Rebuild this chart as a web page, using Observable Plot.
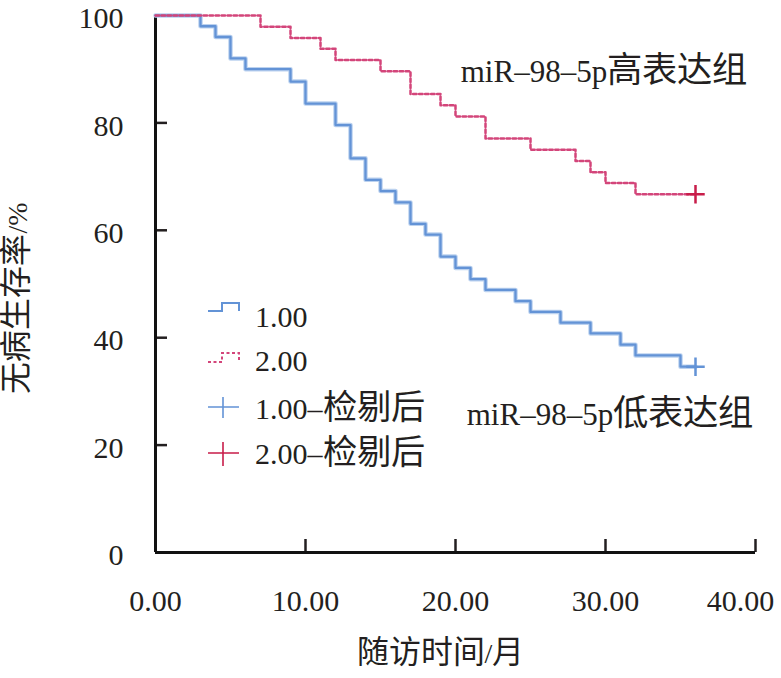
<!DOCTYPE html>
<html>
<head>
<meta charset="utf-8">
<script src="https://cdn.jsdelivr.net/npm/d3@7"></script>
<script src="https://cdn.jsdelivr.net/npm/@observablehq/plot@0.6"></script>
<style>
  @font-face {
    font-family: "CJKBig";
    src: local("Noto Sans CJK SC"), local("Noto Sans CJK SC Regular"), local("NotoSansCJKsc-Regular");
    size-adjust: 114%;
    unicode-range: U+2E80-9FFF, U+F900-FAFF, U+FF00-FFEF;
  }
  html, body { margin: 0; padding: 0; background: #fff; }
  #wrap { position: relative; width: 781px; height: 678px; }
  #legend { position: absolute; left: 0; top: 0; pointer-events: none; }
</style>
</head>
<body>
<div id="wrap"></div>
<script>
// ---- data ----
const lowTimes = [0, 3, 4, 5, 6, 9, 10, 12, 13, 14, 15, 16, 17, 18, 19, 20, 21, 22, 24, 25, 27, 29, 31, 32, 35, 36];
const lowSurv  = [100, 98, 96, 92, 90, 87.7, 83.6, 79.6, 73.4, 69.4, 67.3, 65.2, 61.2, 59.2, 55.1, 53.0, 50.9, 48.9, 46.8, 44.8, 42.8, 40.8, 38.7, 36.7, 34.6, 34.6];
const highTimes = [0, 7, 9, 11, 12, 15, 17, 19, 20, 22, 25, 28, 29, 30, 32, 36];
const highSurv  = [100, 97.9, 95.8, 93.8, 91.7, 89.6, 85.4, 83.3, 81.2, 77.1, 75.0, 72.9, 70.8, 68.8, 66.7, 66.7];
const censorTimes = [36, 36];
const censorSurv = [34.6, 66.7];
const censorGroups = ["1.00", "2.00"];
const xTicks = [0, 10, 20, 30, 40];
const yTicks = [0, 20, 40, 60, 80, 100];
const annotations = ["miR–98–5p高表达组", "miR–98–5p低表达组"];
const annotX = [20.35, 20.75];
const annotY = [89.4, 25.5];
const legendLabels = ["1.00", "2.00", "1.00–检剔后", "2.00–检剔后"];
const xLabel = "随访时间/月";
const yLabel = "无病生存率/%";

const BLUE = "#6393d6", BLUE_GLOW = "#bcd2ef", RED = "#d3457a", RED_PLUS = "#c81d4a";
const FONT = '"Liberation Serif", "CJKBig", "Noto Sans CJK SC", serif';

const low = lowTimes.map((t, i) => ({t, s: lowSurv[i]}));
const high = highTimes.map((t, i) => ({t, s: highSurv[i]}));
const censor = censorTimes.map((t, i) => ({t, s: censorSurv[i], g: censorGroups[i]}));
const annot = annotations.map((text, i) => ({text, x: annotX[i], y: annotY[i]}));
const lastX = xTicks[xTicks.length - 1];

const chart = Plot.plot({
  width: 781, height: 678,
  marginLeft: 155, marginRight: 26, marginTop: 15, marginBottom: 126,
  style: {fontFamily: FONT, fontSize: "30px", color: "#231f20", background: "#fff", overflow: "visible"},
  x: {domain: [0, 40]},
  y: {domain: [0, 100]},
  marks: [
    Plot.axisX({ticks: xTicks, tickFormat: d => d === lastX ? "" : d.toFixed(2), tickSize: -13, tickPadding: 50, strokeWidth: 2.5, label: null, fontSize: 30}),
    Plot.axisX({ticks: [lastX], tickFormat: d => d.toFixed(2), tickSize: 0, tickPadding: 37, dx: -15, label: null, fontSize: 30}),
    Plot.axisY({ticks: yTicks, tickFormat: () => "", tickSize: -12, strokeWidth: 2.5, label: null}),
    Plot.axisY({ticks: yTicks, tickFormat: d => String(d), tickSize: 0, tickPadding: 32, dy: 3, label: null, fontSize: 30}),
    Plot.ruleX([0], {stroke: "#111", strokeWidth: 3}),
    Plot.ruleY([0], {stroke: "#111", strokeWidth: 3}),
    Plot.line(low, {x: "t", y: "s", curve: "step-after", stroke: BLUE_GLOW, strokeWidth: 4.5}),
    Plot.line(low, {x: "t", y: "s", curve: "step-after", stroke: BLUE, strokeWidth: 2.3}),
    Plot.line(high, {x: "t", y: "s", curve: "step-after", stroke: RED, strokeWidth: 2.5, strokeDasharray: "3.5,2.5"}),
    Plot.dot(censor, {x: "t", y: "s", symbol: "plus", r: 6, strokeWidth: 2.5, stroke: d => d.g === "1.00" ? BLUE : RED_PLUS}),
    Plot.text(annot, {x: "x", y: "y", text: "text", textAnchor: "start", fontSize: 31, fill: "#231f20"}),
    Plot.text([xLabel], {text: d => d, frameAnchor: "bottom", textAnchor: "middle", dx: -15, dy: 110, fontSize: 28, fill: "#231f20"}),
    Plot.text([yLabel], {text: d => d, frameAnchor: "left", textAnchor: "middle", dx: -137, dy: 14, rotate: -90, fontSize: 28, fill: "#231f20"})
  ]
});
document.getElementById("wrap").appendChild(chart);

// ---- legend overlay ----
const ns = "http://www.w3.org/2000/svg";
const lg = document.createElementNS(ns, "svg");
lg.setAttribute("id", "legend");
lg.setAttribute("width", 781);
lg.setAttribute("height", 678);
const rowY = [316, 360, 408, 453];
const symbols = [
  `<path d="M208,311 H222 V303 H239 V311" fill="none" stroke="${BLUE}" stroke-width="2"/>`,
  `<path d="M208,362 H222 V353 H239 V362" fill="none" stroke="${RED}" stroke-width="2" stroke-dasharray="3,2.5"/>`,
  `<path d="M208,407 H239 M223,397 V418" fill="none" stroke="${BLUE}" stroke-width="1.6"/>`,
  `<path d="M208,453 H239 M223,442 V466" fill="none" stroke="${RED_PLUS}" stroke-width="1.6"/>`
];
let html = symbols.join("");
legendLabels.forEach((l, i) => {
  html += `<text x="255" y="${rowY[i]}" dy="0.35em" font-family='${FONT}' font-size="30" fill="#231f20">${l}</text>`;
});
lg.innerHTML = html;
document.getElementById("wrap").appendChild(lg);
</script>
</body>
</html>
